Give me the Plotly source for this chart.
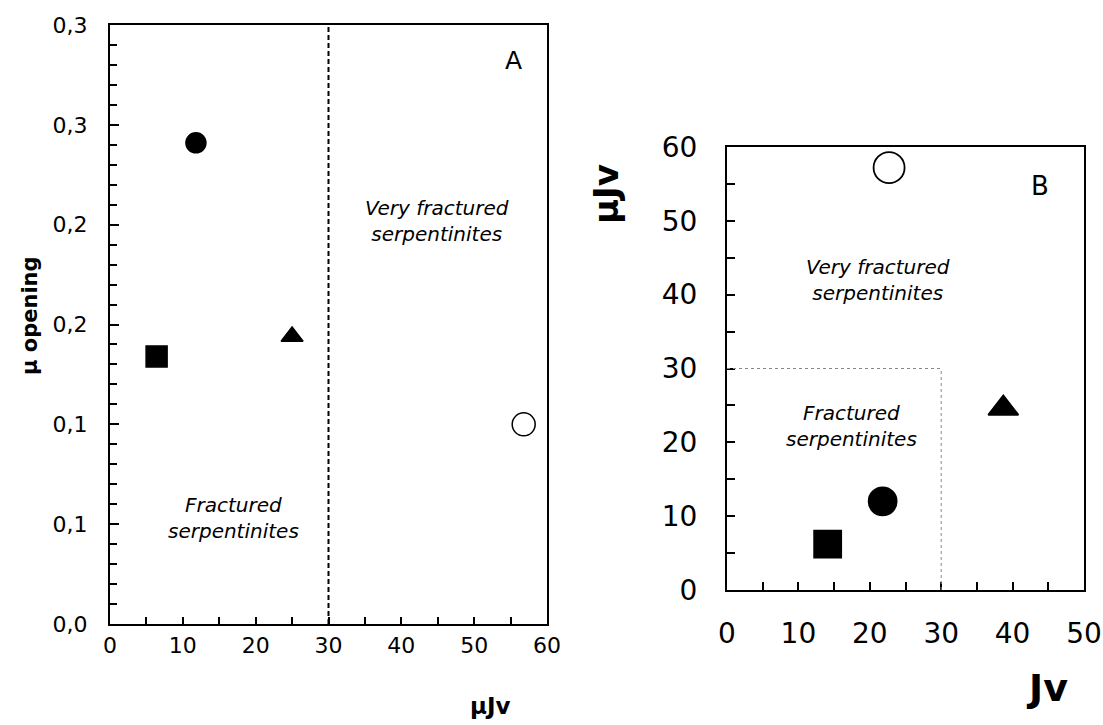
import plotly.graph_objects as go

# ---------------- data ----------------
# Panel A: mean opening vs mean Jv
a_labels = ["circle", "square", "triangle", "open circle"]
a_x = [11.8, 6.4, 25.0, 56.8]
a_y = [0.241, 0.134, 0.144, 0.100]

# Panel B: mean Jv vs Jv
b_labels = ["circle", "square", "triangle", "open circle"]
b_x = [21.8, 14.1, 38.7, 22.7]
b_y = [12.0, 6.2, 24.6, 57.2]

a_threshold = 30          # dashed separation in panel A
b_threshold = [30, 30]    # dotted box corner in panel B (Jv, muJv)

a_ytickvals = [0.0, 0.05, 0.10, 0.15, 0.20, 0.25, 0.30]
a_yticktext = ["0,0", "0,1", "0,1", "0,2", "0,2", "0,3", "0,3"]
a_xtickvals = [0, 10, 20, 30, 40, 50, 60]
b_xtickvals = [0, 10, 20, 30, 40, 50]
b_ytickvals = [0, 10, 20, 30, 40, 50, 60]

# ---------------- styles ----------------
W, H = 1103, 725
FONT = "DejaVu Sans, Liberation Sans, Arial, sans-serif"


def px(x):
    return x / W


def py(y):
    return 1 - y / H


symbols = ["circle", "square", "triangle-up", "circle"]
fills = ["black", "black", "black", "white"]
sizes_a = [20, 21, 19, 23]
sizes_b = [28, 27, 26, 31]

fig = go.Figure()

fig.add_trace(go.Scatter(
    x=a_x, y=a_y, mode="markers", xaxis="x", yaxis="y", showlegend=False,
    marker=dict(symbol=symbols, color=fills, size=sizes_a, opacity=1,
                line=dict(color="black", width=1.5)),
    text=a_labels, hoverinfo="x+y"))

fig.add_trace(go.Scatter(
    x=b_x, y=b_y, mode="markers", xaxis="x2", yaxis="y2", showlegend=False,
    marker=dict(symbol=symbols, color=fills, size=sizes_b, opacity=1,
                line=dict(color="black", width=1.8)),
    text=b_labels, hoverinfo="x+y"))

# threshold lines
fig.add_shape(type="line", xref="x", yref="y", x0=a_threshold, x1=a_threshold,
              y0=0, y1=0.30, line=dict(color="black", width=2, dash="5px,3px"))
fig.add_shape(type="line", xref="x2", yref="y2", x0=0, x1=b_threshold[0],
              y0=b_threshold[1], y1=b_threshold[1],
              line=dict(color="#888888", width=1, dash="dot"))
fig.add_shape(type="line", xref="x2", yref="y2", x0=b_threshold[0], x1=b_threshold[0],
              y0=0, y1=b_threshold[1],
              line=dict(color="#888888", width=1, dash="dot"))

axis_common = dict(showline=True, linecolor="black", linewidth=2, mirror=True,
                   ticks="inside", tickcolor="black", tickwidth=2,
                   showgrid=False, zeroline=False, fixedrange=True,
                   automargin=False)

fig.update_layout(
    width=W, height=H,
    margin=dict(l=0, r=0, t=0, b=0, pad=0, autoexpand=False),
    paper_bgcolor="white", plot_bgcolor="white",
    font=dict(family=FONT, color="black"),
    xaxis=dict(domain=[px(110), px(547)], anchor="y", range=[0, 60],
               tickmode="array", tickvals=a_xtickvals, ticklen=7,
               minor=dict(dtick=5, tick0=0, ticks="inside", ticklen=7,
                          tickcolor="black", tickwidth=2),
               tickfont=dict(size=22), ticklabelstandoff=1, **axis_common),
    yaxis=dict(domain=[py(624), py(25)], anchor="x", range=[0, 0.30],
               tickmode="array", tickvals=a_ytickvals, ticktext=a_yticktext,
               ticklen=9,
               minor=dict(dtick=0.01, tick0=0, ticks="inside", ticklen=7,
                          tickcolor="black", tickwidth=2),
               tickfont=dict(size=22), ticklabelstandoff=16, **axis_common),
    xaxis2=dict(domain=[px(727), px(1084)], anchor="y2", range=[0, 50],
                tickmode="array", tickvals=b_xtickvals, ticklen=8,
                minor=dict(dtick=5, tick0=0, ticks="inside", ticklen=8,
                           tickcolor="black", tickwidth=2),
                tickfont=dict(size=28), ticklabelstandoff=17, **axis_common),
    yaxis2=dict(domain=[py(590), py(147)], anchor="x2", range=[0, 60],
                tickmode="array", tickvals=b_ytickvals, ticklen=8,
                minor=dict(dtick=5, tick0=0, ticks="inside", ticklen=8,
                           tickcolor="black", tickwidth=2),
                tickfont=dict(size=28), ticklabelstandoff=22, **axis_common),
)

C = dict(xanchor="center", yanchor="middle", showarrow=False)
ann = []
# panel letters
ann.append(dict(x=px(513), y=py(61), xref="paper", yref="paper", text="A",
                font=dict(size=25), **C))
ann.append(dict(x=px(1040), y=py(186), xref="paper", yref="paper", text="B",
                font=dict(size=26), **C))
# region labels
ann.append(dict(x=44.9, y=0.202, xref="x", yref="y",
                text="<i>Very fractured<br>serpentinites</i>",
                font=dict(size=20), **C))
ann.append(dict(x=16.9, y=0.053, xref="x", yref="y",
                text="<i>Fractured<br>serpentinites</i>",
                font=dict(size=20), **C))
ann.append(dict(x=21.1, y=42.0, xref="x2", yref="y2",
                text="<i>Very fractured<br>serpentinites</i>",
                font=dict(size=20), **C))
ann.append(dict(x=17.5, y=22.2, xref="x2", yref="y2",
                text="<i>Fractured<br>serpentinites</i>",
                font=dict(size=20), **C))
# axis titles
ann.append(dict(x=px(30), y=py(316), xref="paper", yref="paper",
                text="<b>μ opening</b>", textangle=-90,
                font=dict(size=21), **C))
ann.append(dict(x=px(490), y=py(706), xref="paper", yref="paper",
                text="<b>μJv</b>", font=dict(size=23), **C))
ann.append(dict(x=px(606), y=py(194), xref="paper", yref="paper",
                text="<b>μJv</b>", textangle=-90,
                font=dict(size=34), **C))
ann.append(dict(x=px(1047), y=py(688), xref="paper", yref="paper",
                text="<b>Jv</b>", font=dict(size=38), **C))

fig.update_layout(annotations=ann)

fig.write_html("out.html",
               config={"displayModeBar": False},
               post_script="document.body.style.margin='0px';"
                           "document.body.style.overflow='hidden';")
